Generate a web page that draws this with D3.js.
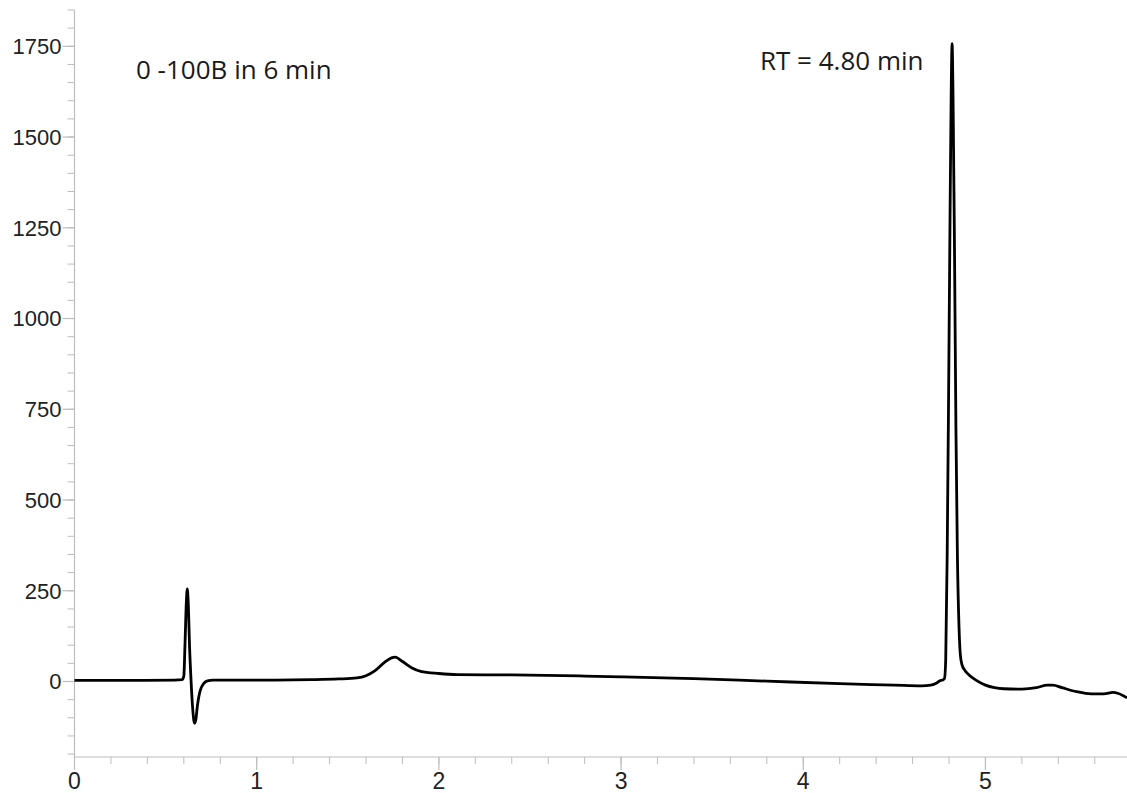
<!DOCTYPE html>
<html><head><meta charset="utf-8">
<script src="https://cdn.jsdelivr.net/npm/d3@7"></script>
<style>html,body{margin:0;padding:0;background:#fff;}svg{display:block;}</style>
</head><body>
<script>
// Chromatogram data: retention time (min) and signal
const times = [0.00,0.30,0.55,0.59,0.600,0.607,0.614,0.619,0.624,0.632,0.640,0.648,0.656,0.660,0.666,0.675,0.685,0.695,0.710,0.730,0.760,0.90,1.10,1.30,1.45,1.55,1.60,1.65,1.70,1.74,1.76,1.80,1.85,1.90,2.00,2.10,2.40,2.80,3.00,3.40,3.80,4.20,4.50,4.65,4.70,4.73,4.75,4.765,4.775,4.782,4.790,4.798,4.806,4.812,4.817,4.822,4.830,4.838,4.846,4.855,4.862,4.872,4.885,4.91,4.95,5.00,5.05,5.10,5.20,5.28,5.34,5.37,5.42,5.50,5.58,5.65,5.70,5.73,5.777];
const signal = [3,3,4,5,15,110,220,255,220,90,0,-70,-110,-115,-105,-65,-35,-18,-5,2,4,4,4,5,7,10,16,30,52,65,67,55,38,28,22,19,18,15,13,8,1,-6,-10,-12,-10,-5,2,4,8,60,350,800,1300,1620,1757,1620,1200,700,350,150,75,45,32,18,3,-10,-17,-20,-21,-17,-10,-10,-17,-28,-34,-34,-30,-33,-45];
const xTicks = [0,1,2,3,4,5];
const yTicks = [0,250,500,750,1000,1250,1500,1750];
const annotations = ["0 -100B in 6 min", "RT = 4.80 min"];

const W = 1127, H = 793;
const svg = d3.select("body").append("svg").attr("width", W).attr("height", H);

const x = d3.scaleLinear().domain([0, 5.777]).range([74.5, 1127]);
const y = d3.scaleLinear().domain([-208, 1850]).range([757, 10]);

const axisColor = "#bdbdbd";
const labelColor = "#222";

// Y axis
const gy = svg.append("g");
gy.append("line").attr("x1", x(0)).attr("x2", x(0)).attr("y1", y(1850)).attr("y2", y(-208))
  .attr("stroke", axisColor).attr("stroke-width", 1.2);
const yMinor = d3.range(-200, 1851, 50);
gy.selectAll("line.minor").data(yMinor).enter().append("line")
  .attr("x1", x(0) - 7).attr("x2", x(0)).attr("y1", d => y(d)).attr("y2", d => y(d))
  .attr("stroke", axisColor).attr("stroke-width", 1);
gy.selectAll("line.major").data(yTicks).enter().append("line")
  .attr("x1", x(0) - 12).attr("x2", x(0)).attr("y1", d => y(d)).attr("y2", d => y(d))
  .attr("stroke", axisColor).attr("stroke-width", 1.2);
gy.selectAll("text").data(yTicks).enter().append("text")
  .attr("x", x(0) - 13).attr("y", d => y(d)).attr("dy", "0.36em")
  .attr("text-anchor", "end").attr("font-family", "Liberation Sans, Arial, sans-serif")
  .attr("font-size", 22).attr("fill", labelColor).text(d => d);

// X axis
const gx = svg.append("g");
gx.append("line").attr("x1", x(0)).attr("x2", W).attr("y1", y(-208)).attr("y2", y(-208))
  .attr("stroke", axisColor).attr("stroke-width", 1.2);
const xMinor = d3.range(0, 5.78, 0.2);
gx.selectAll("line.minor").data(xMinor).enter().append("line")
  .attr("x1", d => x(d)).attr("x2", d => x(d)).attr("y1", y(-208)).attr("y2", y(-208) + 7)
  .attr("stroke", axisColor).attr("stroke-width", 1);
gx.selectAll("line.major").data(xTicks).enter().append("line")
  .attr("x1", d => x(d)).attr("x2", d => x(d)).attr("y1", y(-208)).attr("y2", y(-208) + 13)
  .attr("stroke", axisColor).attr("stroke-width", 1.2);
gx.selectAll("text").data(xTicks).enter().append("text")
  .attr("x", d => x(d)).attr("y", 789)
  .attr("text-anchor", "middle").attr("font-family", "Liberation Sans, Arial, sans-serif")
  .attr("font-size", 23).attr("fill", labelColor).text(d => d);

// Trace
const pts = times.map((t, i) => [t, signal[i]]);
const line = d3.line().x(d => x(d[0])).y(d => y(d[1])).curve(d3.curveMonotoneX);
svg.append("path").datum(pts).attr("d", line)
  .attr("fill", "none").attr("stroke", "#000").attr("stroke-width", 2.8)
  .attr("stroke-linejoin", "round");

// Annotations
svg.append("text").attr("x", 136).attr("y", 79)
  .attr("font-family", "Open Sans, sans-serif").attr("font-size", 26).attr("fill", "#1a1a1a")
  .text(annotations[0]);
svg.append("text").attr("x", 760).attr("y", 70)
  .attr("font-family", "Open Sans, sans-serif").attr("font-size", 26).attr("fill", "#1a1a1a")
  .text(annotations[1]);
</script>
</body></html>
